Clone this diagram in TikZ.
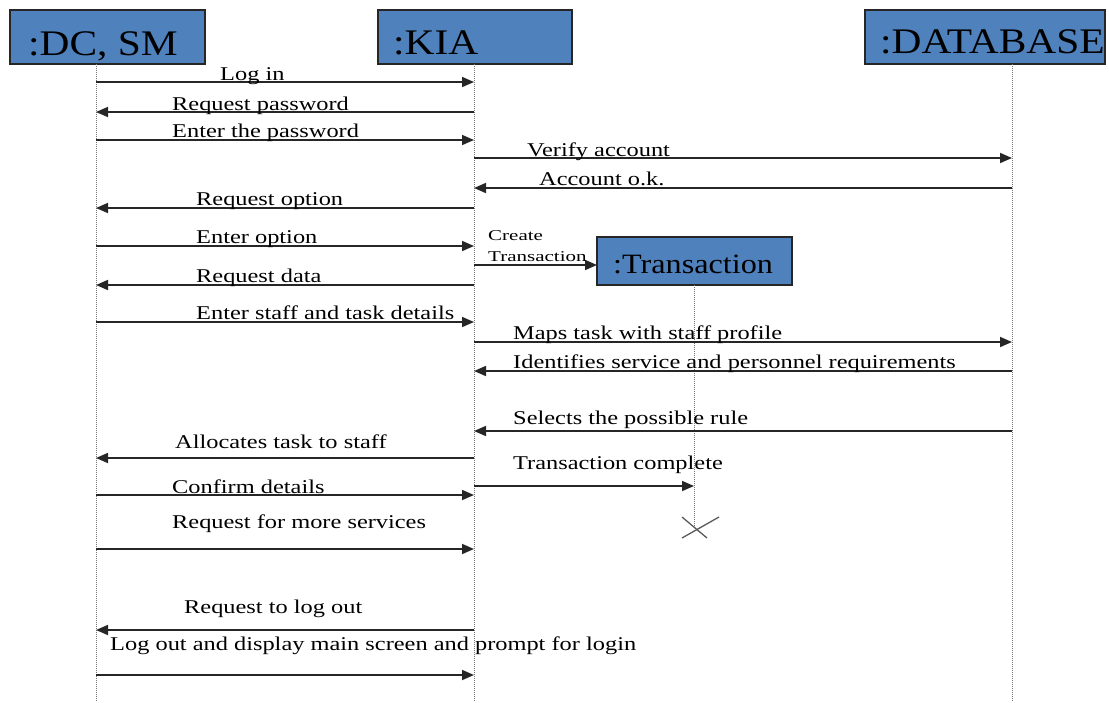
\documentclass[tikz,border=0pt]{standalone}
\usepackage{fontspec}
\setmainfont{Liberation Serif}
\newfontfamily\hdrfont[FakeStretch=1.15]{Liberation Serif}
\newfontfamily\msgfont[FakeStretch=1.25]{Liberation Serif}
\newfontfamily\notefont[FakeStretch=1.4]{Liberation Serif}
\usetikzlibrary{arrows.meta}

\definecolor{objblue}{HTML}{4F81BD}

\tikzset{
  objbox/.style={draw=black!85, line width=1.2pt, fill=objblue, inner sep=0pt},
  objname/.style={anchor=base west, inner sep=0pt, font=\hdrfont\fontsize{36}{36}\selectfont},
  lifeline/.style={draw=black!55, line width=0.9pt, dash pattern=on 1pt off 1pt},
  msg/.style={draw=black!85, line width=1.7pt, -{Triangle[length=12pt,width=10pt]}},
  lbl/.style={anchor=base west, inner sep=0pt, font=\msgfont\fontsize{19.5}{20}\selectfont},
  note/.style={anchor=base west, inner sep=0pt, font=\notefont\fontsize{15}{15}\selectfont},
  endmark/.style={draw=black!65, line width=1.3pt}
}

\begin{document}
\begin{tikzpicture}[x=1pt, y=-1pt]
\useasboundingbox (0,0) rectangle (1109,702);

% object boxes
\node[objbox, minimum width=195pt, minimum height=54pt] (dc)  at (107.5,37) {};
\node[objbox, minimum width=194pt, minimum height=54pt] (kia) at (475,37) {};
\node[objbox, minimum width=240pt, minimum height=54pt] (db)  at (985,37) {};
\node[objbox, minimum width=195pt, minimum height=48pt] (tr)  at (694.5,261) {};

\node[objname] (dcname)  at (28,55)  {:DC, SM};
\node[objname] (kianame) at (393,54) {:KIA};
\node[objname] (dbname)  at (880,53) {:DATABASE};
\node[objname, font=\hdrfont\fontsize{28}{28}\selectfont] (trname) at (613,273) {:Transaction};

% lifelines
\coordinate (dcL)  at (96,64);   \coordinate (dcE)  at (96,702);
\coordinate (kiaL) at (474,64);  \coordinate (kiaE) at (474,702);
\coordinate (dbL)  at (1012,64); \coordinate (dbE)  at (1012,702);
\coordinate (trL)  at (694,285); \coordinate (trX)  at (694,529);
\draw[lifeline] (dcL) -- (dcE);
\draw[lifeline] (kiaL) -- (kiaE);
\draw[lifeline] (dbL) -- (dbE);
\draw[lifeline] (trL) -- (trX);

% destruction mark of the transaction
\coordinate (x1) at (682,517); \coordinate (x2) at (707,538);
\coordinate (x3) at (719,517); \coordinate (x4) at (682,538);
\draw[endmark] (x1) -- (x2);
\draw[endmark] (x3) -- (x4);

% message ends on the lifelines, one pair per row
\foreach \n/\y in {1/82,2/112,3/140,4/158,5/188,6/208,7/246,8/265,9/285,10/322,
                   11/342,12/371,13/431,14/458,15/486,16/495,17/549,18/630,19/675}{
  \coordinate (d\n) at (96,\y);
  \coordinate (k\n) at (474,\y);
  \coordinate (b\n) at (1012,\y);
}
\coordinate (t8)  at (597,265);
\coordinate (t15) at (694,486);

% messages
\draw[msg] (d1) -- (k1);
\node[lbl] (m1) at (220,80) {Log in};
\draw[msg] (k2) -- (d2);
\node[lbl] (m2) at (172,110) {Request password};
\draw[msg] (d3) -- (k3);
\node[lbl] (m3) at (172,137) {Enter the password};
\draw[msg] (k4) -- (b4);
\node[lbl] (m4) at (527,156) {Verify account};
\draw[msg] (b5) -- (k5);
\node[lbl] (m5) at (539,185) {Account o.k.};
\draw[msg] (k6) -- (d6);
\node[lbl] (m6) at (196,205) {Request option};
\draw[msg] (d7) -- (k7);
\node[lbl] (m7) at (196,243) {Enter option};
\draw[msg] (k8) -- (t8);
\node[note] (m8a) at (488,240) {Create};
\node[note] (m8b) at (488,261) {Transaction};
\draw[msg] (k9) -- (d9);
\node[lbl] (m9) at (196,282) {Request data};
\draw[msg] (d10) -- (k10);
\node[lbl] (m10) at (196,319) {Enter staff and task details};
\draw[msg] (k11) -- (b11);
\node[lbl] (m11) at (513,339) {Maps task with staff profile};
\draw[msg] (b12) -- (k12);
\node[lbl] (m12) at (513,368) {Identifies service and personnel requirements};
\draw[msg] (b13) -- (k13);
\node[lbl] (m13) at (513,424) {Selects the possible rule};
\draw[msg] (k14) -- (d14);
\node[lbl] (m14) at (175,448) {Allocates task to staff};
\draw[msg] (k15) -- (t15);
\node[lbl] (m15) at (513,469) {Transaction complete};
\draw[msg] (d16) -- (k16);
\node[lbl] (m16) at (172,493) {Confirm details};
\draw[msg] (d17) -- (k17);
\node[lbl] (m17) at (172,528) {Request for more services};
\draw[msg] (k18) -- (d18);
\node[lbl] (m18) at (184,613) {Request to log out};
\draw[msg] (d19) -- (k19);
\node[lbl] (m19) at (110,650) {Log out and display main screen and prompt for login};
\end{tikzpicture}
\end{document}
